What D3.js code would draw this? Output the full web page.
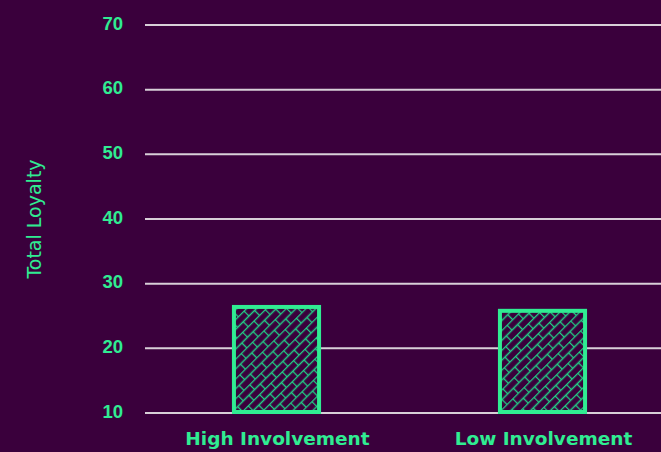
<!DOCTYPE html>
<html><head><meta charset="utf-8">
<script src="https://cdn.jsdelivr.net/npm/d3@7"></script>
<style>html,body{margin:0;padding:0;background:#3a003c;}svg{display:block;}</style>
</head><body>
<script>
const categories = ["High Involvement", "Low Involvement"];
const values = [26.4, 25.8];
const yTicks = [10, 20, 30, 40, 50, 60, 70];
const yLabel = "Total Loyalty";

const W = 661, H = 452;
const bg = "#3a003c";
const svg = d3.select("body").append("svg").attr("width", W).attr("height", H);
svg.append("rect").attr("width", W).attr("height", H).attr("fill", bg);

const green = "#30ec92";
const y = d3.scaleLinear().domain([10, 70]).range([413, 25]);
const x = d3.scaleBand().domain(categories).range([143.5, 675.5]).paddingInner(0.68).paddingOuter(0.34);

const defs = svg.append("defs");
const pat = defs.append("pattern").attr("id", "brick").attr("patternUnits", "userSpaceOnUse")
  .attr("width", 16).attr("height", 14).attr("patternTransform", "rotate(-45)");
pat.append("rect").attr("width", 16).attr("height", 14).attr("fill", bg);
pat.append("path").attr("d", "M0,0.5H16M0,7.5H16M0.5,0V7.5M8.5,7.5V14")
  .attr("stroke", "#22cf86").attr("stroke-width", 1.35).attr("fill", "none");

// grid
svg.append("g").selectAll("line").data(yTicks).join("line")
  .attr("x1", 145).attr("x2", W).attr("y1", d => y(d)).attr("y2", d => y(d))
  .attr("stroke", "#d8cfd8").attr("stroke-width", 2);

// y tick labels
svg.append("g").selectAll("text").data(yTicks).join("text")
  .attr("x", 123).attr("y", d => y(d) + 4.5).attr("text-anchor", "end")
  .attr("fill", green).attr("font-family", "Liberation Sans, Arial, sans-serif")
  .attr("font-weight", "bold").attr("font-size", 18.5).text(d => d);

// bars
svg.append("g").selectAll("rect").data(categories).join("rect")
  .attr("x", d => x(d)).attr("width", x.bandwidth())
  .attr("y", (d, i) => y(values[i])).attr("height", (d, i) => y(10) - y(values[i]) - 1)
  .attr("fill", "url(#brick)").attr("stroke", green).attr("stroke-width", 4);

// x labels
svg.append("g").selectAll("text").data(categories).join("text")
  .attr("x", d => x(d) + x.bandwidth() / 2 + 1).attr("y", 445).attr("text-anchor", "middle")
  .attr("fill", green).attr("font-family", "DejaVu Sans, sans-serif")
  .attr("font-weight", "bold").attr("font-size", 18.5).text(d => d);

// y label
svg.append("text").attr("transform", "translate(41,219) rotate(-90)")
  .attr("text-anchor", "middle").attr("fill", green)
  .attr("font-family", "DejaVu Sans, sans-serif").attr("font-size", 19).text(yLabel);
</script>
</body></html>
